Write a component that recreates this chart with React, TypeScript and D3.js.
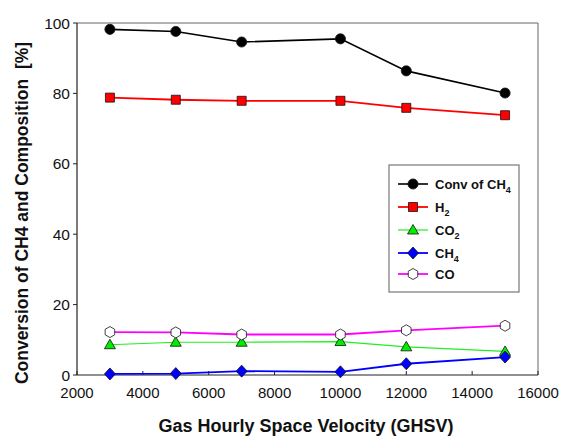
import React from "react";
import * as d3 from "d3";

const ghsv = [3000, 5000, 7000, 10000, 12000, 15000];
const convCH4 = [98.2, 97.6, 94.6, 95.5, 86.4, 80.1];
const h2 = [78.8, 78.2, 77.9, 77.9, 75.9, 73.8];
const co2 = [8.6, 9.3, 9.3, 9.5, 8.0, 6.7];
const ch4 = [0.3, 0.4, 1.1, 0.9, 3.2, 5.1];
const co = [12.2, 12.1, 11.5, 11.5, 12.7, 14.0];
const xTicks = [2000, 4000, 6000, 8000, 10000, 12000, 14000, 16000];
const yTicks = [0, 20, 40, 60, 80, 100];

type Marker = "circle" | "square" | "triangle" | "diamond" | "hexagon";
const series: { name: string; sub?: string; values: number[]; line: string; fill: string; lw: number; marker: Marker }[] = [
  { name: "Conv of CH", sub: "4", values: convCH4, line: "#000000", fill: "#000000", lw: 1.6, marker: "circle" },
  { name: "H", sub: "2", values: h2, line: "#ff0000", fill: "#ff0000", lw: 1.8, marker: "square" },
  { name: "CO", sub: "2", values: co2, line: "#22ee22", fill: "#00ee00", lw: 1.2, marker: "triangle" },
  { name: "CH", sub: "4", values: ch4, line: "#0000ff", fill: "#0000ff", lw: 1.8, marker: "diamond" },
  { name: "CO", values: co, line: "#ff00ff", fill: "#ffffff", lw: 1.8, marker: "hexagon" },
];

const W = 566, H = 437;
const L = 77, R = 538, T = 23, B = 375;

function markerPath(m: Marker): string {
  switch (m) {
    case "circle":
      return d3.symbol(d3.symbolCircle, 80)()!;
    case "square":
      return "M-4.5,-4.5H4.5V4.5H-4.5Z";
    case "triangle":
      return "M0,-5.5L5.5,4L-5.5,4Z";
    case "diamond":
      return "M0,-6L5.5,0L0,6L-5.5,0Z";
    case "hexagon": {
      const pts = d3.range(6).map((i) => {
        const a = (Math.PI / 3) * i - Math.PI / 2;
        return [5.5 * Math.cos(a), 5.5 * Math.sin(a)];
      });
      return "M" + pts.map((p) => p.join(",")).join("L") + "Z";
    }
  }
}

export default function App() {
  const x = d3.scaleLinear().domain([2000, 16000]).range([L, R]);
  const y = d3.scaleLinear().domain([0, 100]).range([B, T]);
  const line = d3.line<[number, number]>().x((d) => x(d[0])).y((d) => y(d[1]));
  const font = "Arial, 'Liberation Sans', Helvetica, sans-serif";

  const legX = 389, legY = 165, legW = 130, legH = 127;
  const legRows = [184, 207, 230, 253, 274];

  return (
    <svg width={W} height={H} style={{ position: "absolute", left: 0, top: 0 }} fontFamily={font}>
      <rect x={0} y={0} width={W} height={H} fill="#ffffff" />
      {/* frame */}
      <line x1={L} y1={T} x2={R} y2={T} stroke="#666" strokeWidth={1} />
      <line x1={R} y1={T} x2={R} y2={B} stroke="#666" strokeWidth={1} />
      <line x1={L} y1={T} x2={L} y2={B} stroke="#222" strokeWidth={1.2} />
      <line x1={L} y1={B} x2={R} y2={B} stroke="#222" strokeWidth={1.2} />
      {/* y ticks */}
      {yTicks.map((t) => (
        <g key={"y" + t}>
          <line x1={L - 4} x2={L} y1={y(t)} y2={y(t)} stroke="#222" />
          <text x={L - 7} y={y(t)} dy="0.36em" textAnchor="end" fontSize={15.5} fill="#111">
            {t}
          </text>
        </g>
      ))}
      {/* x ticks */}
      {xTicks.map((t) => (
        <g key={"x" + t}>
          <line x1={x(t)} x2={x(t)} y1={B} y2={B - 4} stroke="#222" />
          <text x={x(t)} y={398} textAnchor="middle" fontSize={15} fill="#111">
            {t}
          </text>
        </g>
      ))}
      {/* axis titles */}
      <text x={306} y={432} textAnchor="middle" fontSize={18} fontWeight="bold" fill="#111">
        Gas Hourly Space Velocity (GHSV)
      </text>
      <text
        transform={`translate(28,213) rotate(-90)`}
        textAnchor="middle"
        fontSize={17.5}
        fontWeight="bold"
        fill="#111"
        style={{ whiteSpace: "pre" }}
      >
        {"Conversion of CH4 and Composition  [%]"}
      </text>
      {/* series */}
      {series.map((s, i) => {
        const pts = ghsv.map((g, j) => [g, s.values[j]] as [number, number]);
        return (
          <g key={"s" + i}>
            <path d={line(pts)!} fill="none" stroke={s.line} strokeWidth={s.lw} />
            {pts.map((p, j) => (
              <path
                key={j}
                d={markerPath(s.marker)}
                transform={`translate(${x(p[0])},${y(p[1])})`}
                fill={s.fill}
                stroke="#111"
                strokeWidth={0.8}
              />
            ))}
          </g>
        );
      })}
      {/* legend */}
      <rect x={legX} y={legY} width={legW} height={legH} fill="#ffffff" stroke="#777" strokeWidth={1.2} />
      {series.map((s, i) => (
        <g key={"l" + i}>
          <line x1={398} x2={428} y1={legRows[i]} y2={legRows[i]} stroke={s.line} strokeWidth={s.lw} />
          <path
            d={markerPath(s.marker)}
            transform={`translate(413,${legRows[i]})`}
            fill={s.fill}
            stroke="#111"
            strokeWidth={0.8}
          />
          <text x={435} y={legRows[i]} dy="0.36em" fontSize={13} fontWeight="bold" fill="#111">
            {s.name}
            {s.sub && (
              <tspan fontSize={9} dy={4}>
                {s.sub}
              </tspan>
            )}
          </text>
        </g>
      ))}
    </svg>
  );
}
